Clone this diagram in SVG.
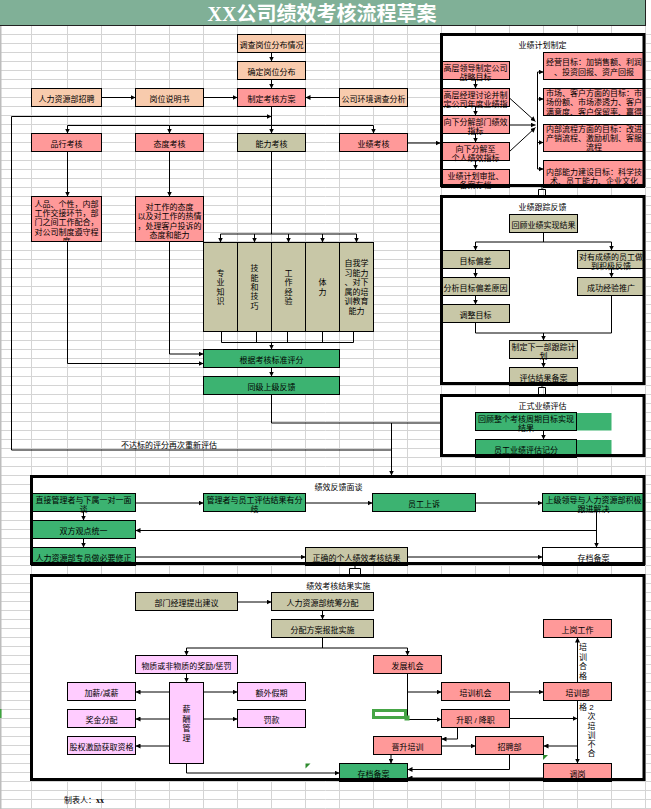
<svg xmlns="http://www.w3.org/2000/svg" width="651" height="809" viewBox="0 0 651 809">
<defs>
<style>
.b{stroke:#000;stroke-width:1}
.pe{fill:#f8cbad}.sa{fill:#ff9999}.kh{fill:#c8c7a7}.gr{fill:#3cb371}.pk{fill:#ffccff}.wh{fill:#fff}
.bg{fill:#fff}
.bd{fill:none;stroke:#000;stroke-width:3}
text{font-family:"Liberation Sans","Noto Sans CJK SC","Noto Sans CJK JP",sans-serif;font-size:8px;fill:#000;text-anchor:middle}
.c path{fill:none;stroke:#000;stroke-width:1}
.c .ar{marker-end:url(#a)}
</style>
<marker id="a" markerWidth="5" markerHeight="5" refX="5" refY="2.5" orient="auto" markerUnits="userSpaceOnUse"><path d="M0 0L5 2.5L0 5z" fill="#000"/></marker>
<pattern id="h" width="651" height="9" patternUnits="userSpaceOnUse" x="0" y="7"><path d="M0 0.5H651" stroke="#d4d4d4" stroke-width="1"/></pattern>
<clipPath id="k1"><rect x="32" y="196" width="70" height="45"/></clipPath>
<clipPath id="k2"><rect x="544" y="88" width="101" height="27"/></clipPath>
</defs>
<rect width="651" height="809" fill="#fff"/>
<g id="grid">
<rect x="0" y="26" width="651" height="783" fill="url(#h)"/>
<path d="M31.5 26V809M67.5 26V809M101.5 26V809M135.5 26V809M169.5 26V809M203.5 26V809M237.5 26V809M271.5 26V809M305.5 26V809M339.5 26V809M373.5 26V809M407.5 26V809M441.5 26V809M475.5 26V809M509.5 26V809M543.5 26V809M577.5 26V809M611.5 26V809M645.5 26V809" stroke="#d4d4d4" stroke-width="1"/>
<rect x="0" y="0" width="1.5" height="809" fill="#bdbdbd"/>
<rect x="0" y="709" width="1.5" height="9" fill="#3fa43f"/>
</g>
<g id="title">
<rect x="-1" y="-1" width="646.5" height="26.5" fill="#80b097" stroke="#222"/>
<text x="322" y="21" style="font-family:'Liberation Serif','Noto Sans CJK SC',serif;font-size:20px;font-weight:bold;fill:#fff">XX公司绩效考核流程草案</text>
</g>
<g transform="translate(-0.5 0.5)">
<g id="panel-bg">
<rect class="bg" x="442" y="34" width="202.5" height="151"/>
<rect class="bg" x="442" y="196" width="202.5" height="187"/>
<rect class="bg" x="442" y="395" width="202.5" height="60"/>
<rect class="bg" x="32" y="476" width="612.5" height="87"/>
<rect class="bg" x="32" y="575" width="612.5" height="204"/>
</g>

<g id="n-diaocha"><rect class="b pe" x="238" y="34" width="68" height="18"/><text x="272" y="47">调查岗位分布情况</text></g>
<g id="n-queding"><rect class="b pe" x="238" y="61" width="68" height="18"/><text x="272" y="74">确定岗位分布</text></g>
<g id="n-zhiding"><rect class="b sa" x="238" y="88" width="68" height="18"/><text x="272" y="101">制定考核方案</text></g>
<g id="n-zhaopin"><rect class="b pe" x="32" y="88" width="70" height="18"/><text x="67" y="101">人力资源部招聘</text></g>
<g id="n-gangwei"><rect class="b pe" x="136" y="88" width="68" height="18"/><text x="170" y="101">岗位说明书</text></g>
<g id="n-huanjing"><rect class="b pe" x="340" y="88" width="68" height="18"/><text x="374" y="101">公司环境调查分析</text></g>
<g id="n-pinxing"><rect class="b sa" x="32" y="133" width="70" height="18"/><text x="67" y="146">品行考核</text></g>
<g id="n-taidu"><rect class="b sa" x="136" y="133" width="68" height="18"/><text x="170" y="146">态度考核</text></g>
<g id="n-nengli"><rect class="b kh" x="238" y="133" width="68" height="18"/><text x="272" y="146">能力考核</text></g>
<g id="n-yeji"><rect class="b sa" x="340" y="133" width="68" height="18"/><text x="374" y="146">业绩考核</text></g>
<g id="n-pinxing-desc"><rect class="b sa" x="32" y="196" width="70" height="45"/><text x="67" y="206.5" clip-path="url(#k1)"><tspan x="67" y="206.5">人品、个性，内部</tspan><tspan x="67" y="215.7">工作交接环节，部</tspan><tspan x="67" y="224.9">门之间工作配合，</tspan><tspan x="67" y="234.1">对公司制度遵守程</tspan><tspan x="67" y="243.3">度</tspan></text></g>
<g id="n-taidu-desc"><rect class="b sa" x="136" y="196" width="68" height="45"/><text><tspan x="170" y="209.7">对工作的态度</tspan><tspan x="170" y="218.7">以及对工作的热情</tspan><tspan x="170" y="228">，处理客户投诉的</tspan><tspan x="170" y="237">态度和能力</tspan></text></g>
<g id="n-zhuanye"><rect class="b kh" x="204" y="242" width="34" height="89"/><text><tspan x="221" y="275.5">专</tspan><tspan x="221" y="284.8">业</tspan><tspan x="221" y="294.1">知</tspan><tspan x="221" y="303.4">识</tspan></text></g>
<g id="n-jineng"><rect class="b kh" x="238" y="242" width="34" height="89"/><text><tspan x="255" y="270.9">技</tspan><tspan x="255" y="280.2">能</tspan><tspan x="255" y="289.5">和</tspan><tspan x="255" y="298.8">技</tspan><tspan x="255" y="308.1">巧</tspan></text></g>
<g id="n-jingyan"><rect class="b kh" x="272" y="242" width="34" height="89"/><text><tspan x="289" y="275.5">工</tspan><tspan x="289" y="284.8">作</tspan><tspan x="289" y="294.1">经</tspan><tspan x="289" y="303.4">验</tspan></text></g>
<g id="n-tili"><rect class="b kh" x="306" y="242" width="34" height="89"/><text><tspan x="323" y="284.8">体</tspan><tspan x="323" y="294.1">力</tspan></text></g>
<g id="n-xuexi"><rect class="b kh" x="340" y="242" width="34" height="89"/><text><tspan x="357" y="265.7">自我学</tspan><tspan x="357" y="275">习能力</tspan><tspan x="357" y="284.7">、对下</tspan><tspan x="357" y="294.7">属的培</tspan><tspan x="357" y="303.7">训教育</tspan><tspan x="357" y="313">能力</tspan></text></g>
<g id="n-pingfen"><rect class="b gr" x="204" y="349" width="136" height="18"/><text x="272" y="362">根据考核标准评分</text></g>
<g id="n-fankui"><rect class="b gr" x="204" y="376" width="136" height="18"/><text x="272" y="389">同级上级反馈</text></g>
<g id="l-retry"><text x="169.5" y="447">不达标的评分再次重新评估</text></g>

<g id="p-jihua">
<text x="543" y="47.3">业绩计划制定</text>
<g id="n-zhanlue"><rect class="b sa" x="442" y="61" width="68" height="18"/><text><tspan x="476" y="70">高层领导制定公司</tspan><tspan x="476" y="79">战略目标</tspan></text></g>
<g id="n-niandu"><rect class="b sa" x="442" y="88" width="68" height="18"/><text><tspan x="476" y="97">高层经理讨论并制</tspan><tspan x="476" y="106">定公司年度业绩指</tspan></text></g>
<g id="n-bumen"><rect class="b sa" x="442" y="115" width="68" height="18"/><text><tspan x="476" y="124">向下分解部门绩效</tspan><tspan x="476" y="133">指标</tspan></text></g>
<g id="n-geren"><rect class="b sa" x="442" y="142" width="68" height="18"/><text><tspan x="476" y="151">向下分解至</tspan><tspan x="476" y="160">个人绩效指标</tspan></text></g>
<g id="n-shenpi"><rect class="b sa" x="442" y="169" width="68" height="18"/><text><tspan x="476" y="178">业绩计划审批、</tspan><tspan x="476" y="187">备案存档</tspan></text></g>
<g id="n-jingying"><rect class="b sa" x="544" y="52" width="101" height="27"/><text><tspan x="594.5" y="64.7">经营目标：加销售额、利润</tspan><tspan x="594.5" y="74">、投资回报、资产回报</tspan></text></g>
<g id="n-shichang"><rect class="b sa" x="544" y="88" width="101" height="27"/><text clip-path="url(#k2)"><tspan x="594.5" y="95.7">市场、客户方面的目标：市</tspan><tspan x="594.5" y="104.7">场份额、市场渗透力、客户</tspan><tspan x="594.5" y="114">满意度、客户保留率、赢得</tspan></text></g>
<g id="n-liucheng"><rect class="b sa" x="544" y="124" width="101" height="27"/><text><tspan x="594.5" y="131.3">内部流程方面的目标：改进</tspan><tspan x="594.5" y="140.3">产销流程、激励机制、客服</tspan><tspan x="594.5" y="149.5">流程</tspan></text></g>
<g id="n-nengli-mb"><rect class="b sa" x="544" y="160" width="101" height="27"/><text><tspan x="594.5" y="174.5">内部能力建设目标：科学技</tspan><tspan x="594.5" y="183.5">术、员工能力、企业文化</tspan></text></g>
</g>

<g id="p-genzong">
<text x="543" y="209.7">业绩跟踪反馈</text>
<g id="n-huigu"><rect class="b kh" x="510" y="214" width="68" height="18"/><text x="544" y="227">回顾业绩实现结果</text></g>
<g id="n-piancha"><rect class="b kh" x="442" y="250" width="68" height="18"/><text x="476" y="263">目标偏差</text></g>
<g id="n-jiji"><rect class="b kh" x="578" y="250" width="67" height="18"/><text><tspan x="611.5" y="259">对有成绩的员工做</tspan><tspan x="611.5" y="268">到积极反馈</tspan></text></g>
<g id="n-fenxi"><rect class="b kh" x="442" y="277" width="68" height="18"/><text x="476" y="290">分析目标偏差原因</text></g>
<g id="n-tuiguang"><rect class="b kh" x="578" y="277" width="67" height="18"/><text x="611.5" y="290">成功经验推广</text></g>
<g id="n-tiaozheng"><rect class="b kh" x="442" y="304" width="68" height="18"/><text x="476" y="317">调整目标</text></g>
<g id="n-xiayibu"><rect class="b kh" x="510" y="340" width="68" height="18"/><text><tspan x="544" y="349">制定下一部跟踪计</tspan><tspan x="544" y="358">划</tspan></text></g>
<g id="n-pinggu"><rect class="b kh" x="510" y="367" width="68" height="18"/><text x="544" y="380">评估结果备案</text></g>
</g>

<g id="p-zhengshi">
<text x="543" y="408">正式业绩评估</text>
<rect class="gr" x="577" y="412.5" width="35" height="17.5"/>
<rect class="gr" x="577" y="439.5" width="35" height="17"/>
<g id="n-zhouqi"><rect class="b gr" x="476" y="412" width="101" height="18"/><text><tspan x="526.5" y="421">回顾整个考核周期目标实现</tspan><tspan x="526.5" y="430">结果</tspan></text></g>
<g id="n-jifen"><rect class="b gr" x="476" y="439" width="101" height="18"/><text x="526.5" y="452">员工业绩评估记分</text></g>
</g>

<g id="p-miantan">
<text x="339" y="489">绩效反馈面谈</text>
<g id="n-yiduiyi"><rect class="b gr" x="32" y="493" width="104" height="18"/><text><tspan x="84" y="502">直接管理者与下属一对一面</tspan><tspan x="84" y="511">谈</tspan></text></g>
<g id="n-fenqi"><rect class="b gr" x="204" y="493" width="102" height="18"/><text><tspan x="255" y="502">管理者与员工评估结果有分</tspan><tspan x="255" y="511">歧</tspan></text></g>
<g id="n-shangsu"><rect class="b gr" x="373" y="493" width="103" height="18"/><text x="424.5" y="506">员工上诉</text></g>
<g id="n-jiejue"><rect class="b gr" x="543" y="493" width="102" height="18"/><text><tspan x="594" y="502">上级领导与人力资源部积极</tspan><tspan x="594" y="511">跟进解决</tspan></text></g>
<g id="n-tongyi"><rect class="b gr" x="32" y="520" width="104" height="18"/><text x="84" y="533">双方观点统一</text></g>
<g id="n-xiuzheng"><rect class="b gr" x="32" y="547" width="104" height="18"/><text x="84" y="560">人力资源部专员做必要修正</text></g>
<g id="n-zhengque"><rect class="b kh" x="306" y="547" width="102" height="18"/><text x="357" y="560">正确的个人绩效考核结果</text></g>
<g id="n-cundang1"><rect class="b wh" x="543" y="547" width="102" height="18"/><text x="594" y="560">存档备案</text></g>
</g>

<g id="p-shishi">
<text x="338.7" y="588">绩效考核结果实施</text>
<g id="n-jianyi"><rect class="b kh" x="136" y="592" width="102" height="18"/><text x="187" y="605">部门经理提出建议</text></g>
<g id="n-tongchou"><rect class="b kh" x="272" y="592" width="102" height="18"/><text x="323" y="605">人力资源部统筹分配</text></g>
<g id="n-baopi"><rect class="b kh" x="272" y="619" width="102" height="18"/><text x="323" y="632">分配方案报批实施</text></g>
<g id="n-jiangli"><rect class="b pk" x="136" y="655" width="102" height="18"/><text x="187" y="668">物质或非物质的奖励/惩罚</text></g>
<g id="n-fazhan"><rect class="b sa" x="374" y="655" width="68" height="18"/><text x="408" y="668">发展机会</text></g>
<g id="n-xinchou"><rect class="b pk" x="170" y="682" width="34" height="81"/><text><tspan x="187" y="711">薪</tspan><tspan x="187" y="721">酬</tspan><tspan x="187" y="730.7">管</tspan><tspan x="187" y="740">理</tspan></text></g>
<g id="n-jiaxin"><rect class="b pk" x="68" y="682" width="68" height="18"/><text x="102" y="695">加薪/减薪</text></g>
<g id="n-jiangjin"><rect class="b pk" x="68" y="709" width="68" height="18"/><text x="102" y="722">奖金分配</text></g>
<g id="n-guquan"><rect class="b pk" x="68" y="736" width="68" height="18"/><text x="102" y="749">股权激励获取资格</text></g>
<g id="n-jiaqi"><rect class="b pk" x="238" y="682" width="68" height="18"/><text x="272" y="695">额外假期</text></g>
<g id="n-fakuan"><rect class="b pk" x="238" y="709" width="68" height="18"/><text x="272" y="722">罚款</text></g>
<g id="n-peixunjh"><rect class="b sa" x="442" y="682" width="68" height="18"/><text x="476" y="695">培训机会</text></g>
<g id="n-peixunbu"><rect class="b sa" x="544" y="682" width="68" height="18"/><text x="578" y="695">培训部</text></g>
<g id="n-shanggang"><rect class="b sa" x="544" y="619" width="68" height="18"/><text x="578" y="632">上岗工作</text></g>
<g id="n-shengzhi"><rect class="b sa" x="442" y="709" width="68" height="18"/><text x="476" y="722">升职 / 降职</text></g>
<g id="n-jinsheng"><rect class="b sa" x="374" y="736" width="68" height="18"/><text x="408" y="749">晋升培训</text></g>
<g id="n-zhaopinbu"><rect class="b sa" x="476" y="736" width="68" height="18"/><text x="510" y="749">招聘部</text></g>
<g id="n-cundang2"><rect class="b gr" x="340" y="763" width="68" height="18"/><text x="374" y="776">存档备案</text></g>
<g id="n-tiaogang"><rect class="b sa" x="544" y="763" width="68" height="18"/><text x="578" y="776">调岗</text></g>
<g id="l-hege"><text><tspan x="583.5" y="649.7">培</tspan><tspan x="583.5" y="659">训</tspan><tspan x="583.5" y="668.7">合</tspan><tspan x="583.5" y="678">格</tspan></text></g>
<g id="l-buhege"><text><tspan x="583.5" y="709">格</tspan><tspan x="592" y="709">2</tspan><tspan x="592" y="718.7">次</tspan><tspan x="592" y="728">培</tspan><tspan x="592" y="737.3">训</tspan><tspan x="592" y="746.3">不</tspan><tspan x="592" y="755.7">合</tspan></text></g>
</g>

<g id="panel-borders">
<rect class="bd" x="442" y="34" width="202.5" height="151"/>
<rect class="bd" x="442" y="196" width="202.5" height="187"/>
<rect class="bd" x="442" y="395" width="202.5" height="60"/>
<rect class="bd" x="32" y="476" width="612.5" height="87"/>
<rect class="bd" x="32" y="575" width="612.5" height="204"/>
</g>

<g id="connectors" class="c">
<path class="ar" d="M272 52V61"/>
<path class="ar" d="M272 79V88"/>
<path class="ar" d="M102 97H136"/>
<path class="ar" d="M204 97H238"/>
<path class="ar" d="M340 97H306"/>
<path class="ar" d="M272 106V133"/>
<path class="ar" d="M12 449.5V116H272"/>
<path d="M68 125H374"/>
<path class="ar" d="M68 125V133"/>
<path class="ar" d="M170 125V133"/>
<path class="ar" d="M374 125V133"/>
<path class="ar" d="M408 142.5H441"/>
<path class="ar" d="M68 151V196"/>
<path class="ar" d="M170 151V196"/>
<path class="ar" d="M68 241V363H204"/>
<path class="ar" d="M170 241V353.5H204"/>
<path d="M272 151V233.5M221 233.5H357"/>
<path class="ar" d="M221 233.5V242"/>
<path class="ar" d="M255 233.5V242"/>
<path class="ar" d="M289 233.5V242"/>
<path class="ar" d="M323 233.5V242"/>
<path class="ar" d="M357 233.5V242"/>
<path d="M222 331V342M257 331V342M288 331V342M323 331V342M354 331V342M222 342H354"/>
<path class="ar" d="M272 342V349"/>
<path class="ar" d="M272 367V376"/>
<path d="M272 394V422.5H441"/>
<path class="ar" d="M392 422.5V475"/>
<path d="M12 449.5H392"/>
<path class="ar" d="M476 79V88"/>
<path class="ar" d="M476 106V115"/>
<path class="ar" d="M476 133V142"/>
<path class="ar" d="M476 160V169"/>
<path class="ar" d="M510 97.5L536 121"/>
<path class="ar" d="M510 124.5H536"/>
<path class="ar" d="M510 151L536 127"/>
<path d="M538 71.5V168.5"/>
<path class="ar" d="M538 71.5H544"/>
<path class="ar" d="M538 98.5H544"/>
<path class="ar" d="M538 142H544"/>
<path class="ar" d="M538 168.5H544"/>
<path d="M542.5 185V189M539 196V189H546V196"/>
<path d="M544 232V241.5M476 241.5H612"/>
<path class="ar" d="M476 241.5V250"/>
<path class="ar" d="M612 241.5V250"/>
<path class="ar" d="M476 268V277"/>
<path class="ar" d="M476 295V304"/>
<path class="ar" d="M612 268V277"/>
<path d="M476 322V332.5H612V295"/>
<path class="ar" d="M544 332.5V340"/>
<path class="ar" d="M544 358V367"/>
<path d="M542.5 383V387M539 394V387H546V394"/>
<path class="ar" d="M544 430V439"/>
<path class="ar" d="M136 502.5H204"/>
<path class="ar" d="M306 502.5H373"/>
<path class="ar" d="M476 502.5H543"/>
<path class="ar" d="M84 511V520"/>
<path class="ar" d="M84 538V547"/>
<path class="ar" d="M597 511V547"/>
<path class="ar" d="M597 530H136"/>
<path class="ar" d="M136 556.5H306"/>
<path class="ar" d="M408 556.5H543"/>
<path d="M355.5 564V568M350 575V568H361V575"/>
<path class="ar" d="M238 601.5H272"/>
<path class="ar" d="M323 610V619"/>
<path d="M323 637V647.5M187 647.5H408"/>
<path class="ar" d="M187 647.5V655"/>
<path class="ar" d="M408 647.5V655"/>
<path class="ar" d="M187 673V682"/>
<path class="ar" d="M170 691.5H136"/>
<path class="ar" d="M170 718.5H136"/>
<path class="ar" d="M170 745.5H136"/>
<path class="ar" d="M204 691.5H238"/>
<path class="ar" d="M204 718.5H238"/>
<path class="ar" d="M187 763V772.5H340"/>
<path class="ar" d="M408 673V719H442"/>
<path class="ar" d="M408 691.5H442"/>
<path class="ar" d="M510 691.5H544"/>
<path class="ar" d="M578 682V637"/>
<path class="ar" d="M578 700V763"/>
<path class="ar" d="M510 718H578"/>
<path class="ar" d="M458 727V738.5H442"/>
<path class="ar" d="M442 745.5H476"/>
<path class="ar" d="M578 745.5H544"/>
<path class="ar" d="M391.5 754V763"/>
<path class="ar" d="M510 754V769H408"/>
<path class="ar" d="M544 777.5H408"/>
</g>
<g id="marks">
<path d="M306 763H311L306 768z" fill="#2e8b2e"/>
<path d="M543.5 754.5H548.5L543.5 759.5z" fill="#2e8b2e"/>
<rect x="374" y="710" width="32" height="7" fill="none" stroke="#46a546" stroke-width="3"/>
<rect x="405" y="715" width="5" height="5" fill="#46a546"/>
</g>
</g>
<g id="footer"><text x="64" y="803" style="text-anchor:start">制表人：<tspan style="font-family:'Liberation Serif',serif;font-weight:bold">xx</tspan></text></g>
</svg>
